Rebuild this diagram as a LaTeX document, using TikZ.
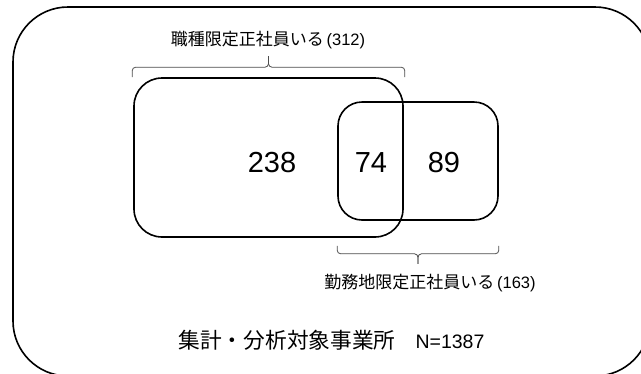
\documentclass[tikz,border=0pt]{standalone}
\usepackage{fontspec}
\setmainfont{Liberation Sans}
\newfontfamily\cjk{Noto Sans CJK JP}
\usetikzlibrary{calc}
\begin{document}
\begin{tikzpicture}[x=1pt,y=-1pt,
  box/.style={draw, line width=1.6pt, rounded corners=28pt, inner sep=0pt},
  brc/.style={draw=black!70, line width=0.8pt, rounded corners=3.5pt},
  num/.style={font=\fontsize{29}{31}\selectfont, inner sep=0pt},
  lbl/.style={font=\fontsize{16.5}{18}\selectfont, inner sep=0pt}]
\path[use as bounding box] (0,0) rectangle (641,373);
\clip (0,0) rectangle (641,373);
% outer frame (extends past the right and bottom edges)
\coordinate (otl) at (13,7);
\coordinate (obr) at (650,376);
\draw[line width=1.6pt, rounded corners=55pt] (otl) rectangle (obr);
\node[box, minimum width=269pt, minimum height=159pt] (A) at (268.5,157.5) {};
\node[box, minimum width=160pt, minimum height=118pt, rounded corners=24pt] (B) at (418,161) {};
\node[num] (n1) at (272,163) {238};
\node[num] (n2) at (371,163) {74};
\node[num] (n3) at (444,163) {89};
% top brace
\coordinate (ta) at ($(A.north west)+(-1,0)$);
\coordinate (tb) at ($(A.north east)+(1,0)$);
\coordinate (tm) at ($(ta)!0.5!(tb)$);
\draw[brc] (ta) -- ($(ta)+(0,-10)$) -- ($(tm)+(0,-10)$) -- ($(tm)+(0,-21)$);
\draw[brc] (tb) -- ($(tb)+(0,-10)$) -- ($(tm)+(0,-10)$) -- ($(tm)+(0,-21)$);
% bottom brace
\coordinate (ba) at ($(B.south west)+(0,25)$);
\coordinate (bb) at ($(B.south east)+(0,25)$);
\coordinate (bm) at ($(ba)!0.5!(bb)$);
\draw[brc] (ba) -- ($(ba)+(0,8)$) -- ($(bm)+(0,8)$) -- ($(bm)+(0,18)$);
\draw[brc] (bb) -- ($(bb)+(0,8)$) -- ($(bm)+(0,8)$) -- ($(bm)+(0,18)$);
\node[lbl] (t1) at (268,40) {{\cjk\fontsize{17}{18}\selectfont 職種限定正社員いる}\,(312)};
\node[lbl] (t2) at (430,283) {{\cjk\fontsize{17}{18}\selectfont 勤務地限定正社員いる}\,(163)};
\node[font=\fontsize{19.5}{22}\selectfont, inner sep=0pt] (t3) at (331.5,340) {{\cjk\fontsize{21.7}{22}\selectfont 集計・分析対象事業所}\hspace{20pt}N=1387};
\end{tikzpicture}
\end{document}
